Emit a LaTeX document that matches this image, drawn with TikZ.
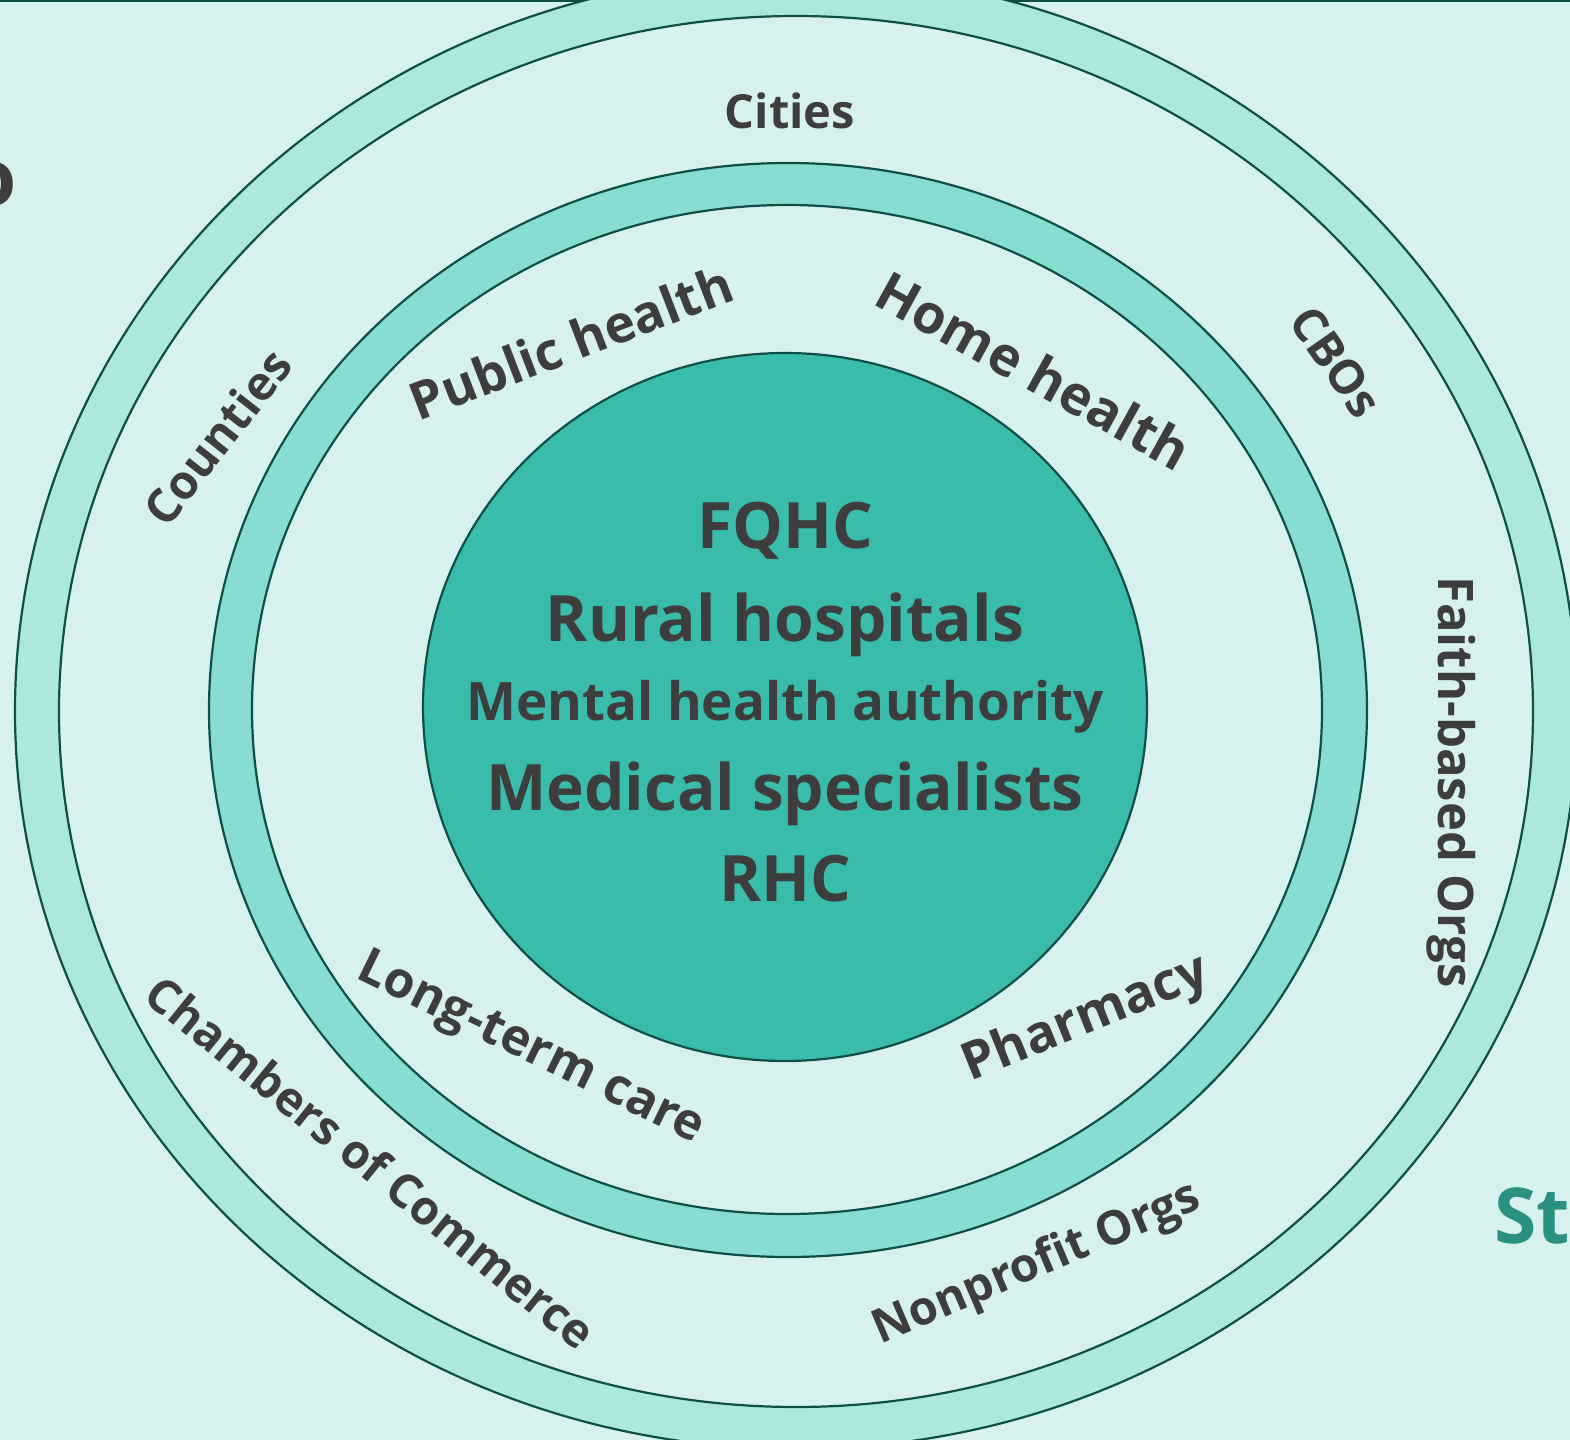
\documentclass[tikz,border=0pt]{standalone}
\usepackage{fontspec}
\setmainfont{Open Sans}
\definecolor{bgmint}{HTML}{D7F2EE}
\definecolor{ringouter}{HTML}{ADE8DF}
\definecolor{ringmid}{HTML}{86DDD0}
\definecolor{coreteal}{HTML}{39BCAC}
\definecolor{edgegreen}{HTML}{0F4F47}
\definecolor{labelgray}{HTML}{3D3D3D}
\definecolor{headteal}{HTML}{2A9080}

\begin{document}
\begin{tikzpicture}[x=0.5pt, y=-0.5pt, line width=1.1pt]
  \tikzstyle{band}=[draw=edgegreen]
  \tikzstyle{outerlabel}=[text=labelgray, font=\bfseries\fontsize{23.5}{28}\selectfont, inner sep=0pt]
  \tikzstyle{innerlabel}=[text=labelgray, font=\bfseries\fontsize{26}{31}\selectfont, inner sep=0pt]
  \tikzstyle{corelabel}=[text=labelgray, anchor=base, inner sep=0pt]
  \path[use as bounding box, fill=bgmint] (0,0) rectangle (1570,1440);
  \clip (0,0) rectangle (1570,1440);
  \draw[edgegreen] (0,1) -- (1570,1);
  \node[text=labelgray, font=\bfseries\fontsize{39}{46}\selectfont, anchor=base, inner sep=0pt] (cutword) at (-7,205) {o};
  \node[text=headteal, font=\bfseries\fontsize{38.5}{46}\selectfont, anchor=base west, inner sep=0pt] (stateword) at (1493,1243) {St};
  % rings
  \filldraw[band, fill=ringouter] (796,711) ellipse [x radius=390.5pt, y radius=369pt];
  \filldraw[band, fill=bgmint] (796,711.5) ellipse [x radius=368.5pt, y radius=347.75pt];
  \filldraw[band, fill=ringmid] (788,710) ellipse [x radius=289.5pt, y radius=273.5pt];
  \filldraw[band, fill=bgmint] (787,709.5) ellipse [x radius=267.5pt, y radius=252.25pt];
  \filldraw[band, fill=coreteal] (785,707) ellipse [x radius=181pt, y radius=177pt];
  % core
  \node[corelabel, font=\bfseries\fontsize{32}{38}\selectfont] (fqhc) at (785,548) {FQHC};
  \node[corelabel, font=\bfseries\fontsize{32}{38}\selectfont] (rural) at (785,641) {Rural hospitals};
  \node[corelabel, font=\bfseries\fontsize{26.5}{32}\selectfont] (mental) at (785,720) {Mental health authority};
  \node[corelabel, font=\bfseries\fontsize{32}{38}\selectfont] (medical) at (785,810) {Medical specialists};
  \node[corelabel, font=\bfseries\fontsize{32}{38}\selectfont] (rhc) at (785,901) {RHC};
  % middle band
  \node[innerlabel, rotate=21] (publichealth) at (571,342) {Public health};
  \node[innerlabel, rotate=-29, font=\bfseries\fontsize{27}{32}\selectfont] (homehealth) at (1034,370) {Home health};
  \node[innerlabel, rotate=-26, font=\bfseries\fontsize{25}{30}\selectfont] (longterm) at (530,1050) {Long-term care};
  \node[innerlabel, rotate=22] (pharmacy) at (1086,1020) {Pharmacy};
  % outer band
  \node[outerlabel] (cities) at (790,111) {Cities};
  \node[outerlabel, rotate=52] (counties) at (217,437) {Counties};
  \node[outerlabel, rotate=-55] (cbos) at (1336,362) {CBOs};
  \node[outerlabel, rotate=-90, font=\bfseries\fontsize{24.5}{29}\selectfont] (faith) at (1451,782) {Faith-based Orgs};
  \node[outerlabel, rotate=-39] (chambers) at (371,1162) {Chambers of Commerce};
  \node[outerlabel, rotate=23] (nonprofit) at (1037,1265) {Nonprofit Orgs};
\end{tikzpicture}
\end{document}
